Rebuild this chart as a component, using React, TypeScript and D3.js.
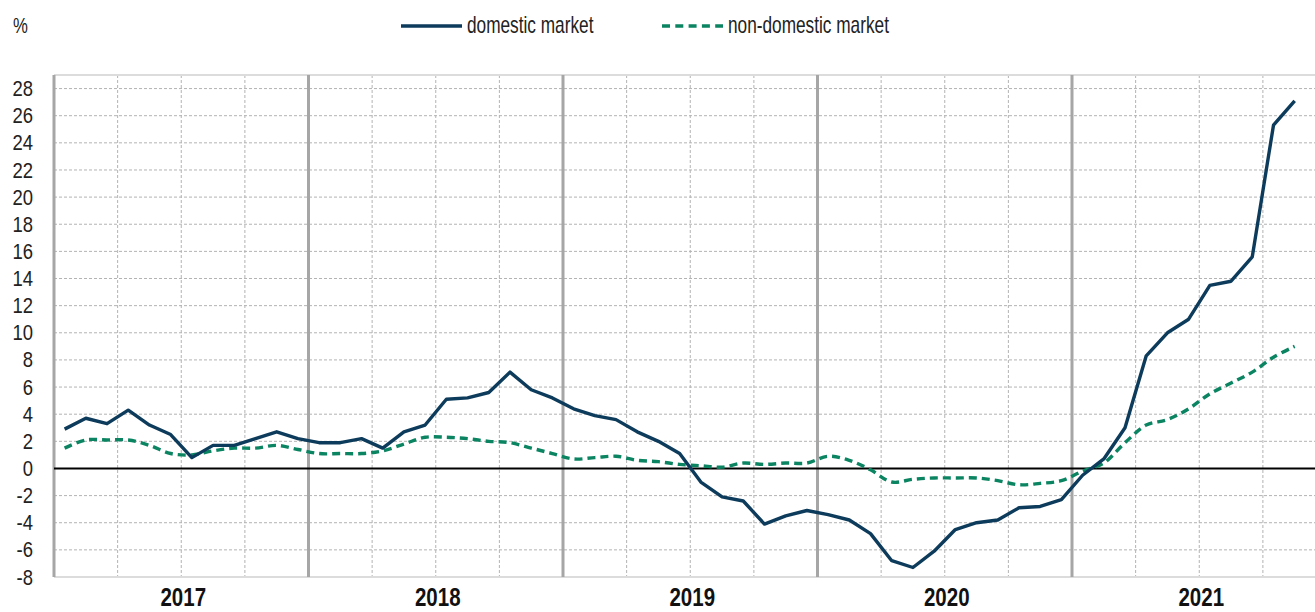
import React from 'react'
import * as d3 from 'd3'

// values (monthly, Jan 2017 .. Nov 2021)
const years = ['2017', '2018', '2019', '2020', '2021']
const yTicks = [-8, -6, -4, -2, 0, 2, 4, 6, 8, 10, 12, 14, 16, 18, 20, 22, 24, 26, 28]

const domestic = [
  2.9, 3.7, 3.3, 4.3, 3.2, 2.5, 0.8, 1.7, 1.7, 2.2, 2.7, 2.2,
  1.9, 1.9, 2.2, 1.5, 2.7, 3.2, 5.1, 5.2, 5.6, 7.1, 5.8, 5.2,
  4.4, 3.9, 3.6, 2.7, 2.0, 1.1, -1.0, -2.1, -2.4, -4.1, -3.5, -3.1,
  -3.4, -3.8, -4.8, -6.8, -7.3, -6.1, -4.5, -4.0, -3.8, -2.9, -2.8, -2.3,
  -0.5, 0.7, 3.0, 8.3, 10.0, 11.0, 13.5, 13.8, 15.6, 25.3, 27.1,
]

const nonDomestic = [
  1.5, 2.1, 2.1, 2.1, 1.7, 1.1, 1.0, 1.3, 1.5, 1.5, 1.7, 1.4,
  1.1, 1.1, 1.1, 1.3, 1.8, 2.3, 2.3, 2.2, 2.0, 1.9, 1.5, 1.1,
  0.7, 0.8, 0.9, 0.6, 0.5, 0.3, 0.2, 0.1, 0.4, 0.3, 0.4, 0.4,
  0.9, 0.6, -0.1, -1.0, -0.8, -0.7, -0.7, -0.7, -0.9, -1.2, -1.1, -0.9,
  -0.2, 0.4, 1.9, 3.2, 3.6, 4.4, 5.5, 6.3, 7.1, 8.2, 9.0,
]

const NAVY = '#0d3b5b'
const GREEN = '#0b8462'
const FONT = '"Liberation Sans", Arial, sans-serif'

// Arial Narrow isn't around, so squeeze Liberation Sans horizontally
const Narrow: React.FC<{
  x: number
  y: number
  size: number
  sx?: number
  anchor?: 'start' | 'middle' | 'end'
  bold?: boolean
  middle?: boolean
  fill?: string
  children: React.ReactNode
}> = ({ x, y, size, sx = 0.82, anchor = 'start', bold, middle, fill = '#222', children }) => (
  <text
    transform={`translate(${x},${y}) scale(${sx},1)`}
    textAnchor={anchor}
    dominantBaseline={middle ? 'central' : undefined}
    fontSize={size}
    fontWeight={bold ? 'bold' : 'normal'}
    fill={fill}
  >
    {children}
  </text>
)

const App: React.FC = () => {
  const width = 1315
  const height = 612
  const left = 54
  const right = 1326.5
  const top = 75
  const bottom = 577

  // x in months since Jan 2017, points sit mid-month
  const x = d3.scaleLinear().domain([0, years.length * 12]).range([left, right])
  const y = d3.scaleLinear().domain([-8, 29]).range([bottom, top])

  const lineDom = d3
    .line<number>()
    .x((_, i) => x(i + 0.5))
    .y(d => y(d))
  const lineNon = d3
    .line<number>()
    .x((_, i) => x(i + 0.5))
    .y(d => y(d))
    .curve(d3.curveCatmullRom.alpha(0.5))

  const quarterLines = d3.range(0, years.length * 12 + 1, 3).filter(m => m % 12 !== 0)
  const yearLines = d3.range(0, years.length * 12 + 1, 12)

  return (
    <div style={{ position: 'absolute', left: 0, top: 0 }}>
      <svg width={width} height={height} style={{ display: 'block', background: '#fff' }}>
        <g fontFamily={FONT}>
          {/* grid */}
          {yTicks
            .filter(t => t !== 0 && t !== -8)
            .map(t => (
              <line key={'h' + t} x1={left} x2={right} y1={y(t)} y2={y(t)} stroke="#b3b3b3" strokeWidth={1} strokeDasharray="3,2" />
            ))}
          {quarterLines.map(m => (
            <line key={'q' + m} x1={x(m)} x2={x(m)} y1={top} y2={bottom} stroke="#b3b3b3" strokeWidth={1} strokeDasharray="3,2" />
          ))}
          <line x1={left} x2={right} y1={top} y2={top} stroke="#dcdcdc" strokeWidth={2} />
          <line x1={left} x2={right} y1={bottom} y2={bottom} stroke="#dcdcdc" strokeWidth={2} />
          {yearLines.map(m => (
            <line key={'y' + m} x1={x(m)} x2={x(m)} y1={top} y2={bottom} stroke="#a6a6a6" strokeWidth={3} />
          ))}
          <line x1={left} x2={right} y1={y(0)} y2={y(0)} stroke="#000" strokeWidth={2} />

          {/* series */}
          <path d={lineNon(nonDomestic) || ''} fill="none" stroke={GREEN} strokeWidth={3.4} strokeDasharray="8,5" />
          <path d={lineDom(domestic) || ''} fill="none" stroke={NAVY} strokeWidth={3.4} strokeLinejoin="round" />

          {/* y axis labels */}
          {yTicks.map(t => (
            <Narrow key={'t' + t} x={33} y={y(t)} size={22} sx={0.84} anchor="end" middle>
              {t}
            </Narrow>
          ))}
          {/* year labels */}
          {years.map((yr, i) => (
            <Narrow key={yr} x={x(i * 12 + 6) + 2} y={605.5} size={25} anchor="middle" bold fill="#111">
              {yr}
            </Narrow>
          ))}

          <Narrow x={13} y={25} size={22} sx={0.76} middle>
            %
          </Narrow>

          {/* legend */}
          <line x1={401} x2={462} y1={26} y2={26} stroke={NAVY} strokeWidth={3.4} />
          <Narrow x={467} y={25} size={23} sx={0.75} middle>
            domestic market
          </Narrow>
          <line x1={662} x2={723} y1={26} y2={26} stroke={GREEN} strokeWidth={3.4} strokeDasharray="8,5.3" />
          <Narrow x={728} y={25} size={23} sx={0.75} middle>
            non-domestic market
          </Narrow>
        </g>
      </svg>
    </div>
  )
}

export default App
